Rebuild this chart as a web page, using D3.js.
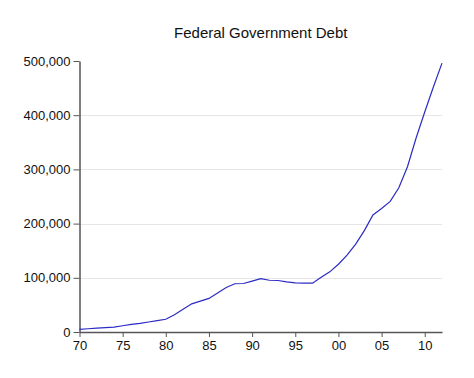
<!DOCTYPE html>
<html>
<head>
<meta charset="utf-8">
<script src="https://cdn.jsdelivr.net/npm/d3@7"></script>
<style>
  body { margin: 0; background: #fff; }
  text { font-family: Arial, "Liberation Sans", sans-serif; fill: #111; }
  .axis path, .axis line { stroke: #555; }
  .grid line { stroke: #e6e6e6; }
</style>
</head>
<body>
<div id="chart"></div>
<script>
// ---- size
const w = 474;
const h = 378;

// ---- padding
const pLeft = 79.5;
const pRight = 32;
const pTop = 61;
const pBottom = 46;

// ---- data
const years = [1970, 1971, 1972, 1973, 1974, 1975, 1976, 1977, 1978, 1979,
    1980, 1981, 1982, 1983, 1984, 1985, 1986, 1987, 1988, 1989,
    1990, 1991, 1992, 1993, 1994, 1995, 1996, 1997, 1998, 1999,
    2000, 2001, 2002, 2003, 2004, 2005, 2006, 2007, 2008, 2009,
    2010, 2011, 2012];
const debt = [5000, 6000, 7000, 8000, 9000, 11500, 14000, 16000, 18500, 21000,
    23500, 32000, 42000, 52000, 57000, 62000, 72000, 82000, 89000, 89500,
    94000, 98500, 95500, 95000, 92500, 90500, 90000, 90000, 101000, 111000,
    125000, 142000, 162000, 187000, 216000, 228000, 241000, 266000, 305000, 358000,
    406000, 452000, 496000];
const xTicks = [1970, 1975, 1980, 1985, 1990, 1995, 2000, 2005, 2010];
const yTicks = [0, 100000, 200000, 300000, 400000, 500000];
const title = "Federal Government Debt";

const data = years.map((y, i) => ({ year: y, value: debt[i] }));

// SCALES
const xScale = d3.scaleLinear().domain([1970, 2012]).range([pLeft, w - pRight]);
const yScale = d3.scaleLinear().domain([0, 500000]).range([h - pBottom, pTop]);

const svg = d3.select("#chart").append("svg")
    .attr("width", w)
    .attr("height", h);

// GRID
svg.append("g")
    .attr("class", "grid")
    .selectAll("line")
    .data(yTicks.filter((d) => d > 0 && d < 500000))
    .enter()
    .append("line")
    .attr("x1", pLeft)
    .attr("x2", w - pRight)
    .attr("y1", (d) => Math.round(yScale(d)) + 0.5)
    .attr("y2", (d) => Math.round(yScale(d)) + 0.5);

// X AXIS
const xAxis = d3.axisBottom(xScale)
    .tickValues(xTicks)
    .tickSize(5)
    .tickSizeOuter(0)
    .tickPadding(4)
    .tickFormat((d) => d3.format("02d")(d % 100));
svg.append("g")
    .attr("class", "axis")
    .attr("transform", `translate(0,${h - pBottom})`)
    .call(xAxis)
    .call((g) => g.select(".domain").attr("stroke-width", 1.5))
    .call((g) => g.selectAll("text").style("font-size", "13px"));

// Y AXIS
const yAxis = d3.axisLeft(yScale)
    .tickValues(yTicks)
    .tickSize(6)
    .tickSizeOuter(0)
    .tickPadding(3)
    .tickFormat(d3.format(","));
svg.append("g")
    .attr("class", "axis")
    .attr("transform", `translate(${pLeft},0)`)
    .call(yAxis)
    .call((g) => g.select(".domain").attr("stroke-width", 1.5))
    .call((g) => g.selectAll("text").style("font-size", "13px"));

// LINE
const line = d3.line()
    .x((d) => xScale(d.year))
    .y((d) => yScale(d.value));
svg.append("path")
    .datum(data)
    .attr("d", line)
    .attr("fill", "none")
    .attr("stroke", "#2b2bc4")
    .attr("stroke-width", 1.2);

// TITLE
svg.append("text")
    .attr("x", (w - pLeft - pRight) / 2 + pLeft)
    .attr("y", 38)
    .attr("text-anchor", "middle")
    .style("font-size", "15px")
    .text(title);
</script>
</body>
</html>
